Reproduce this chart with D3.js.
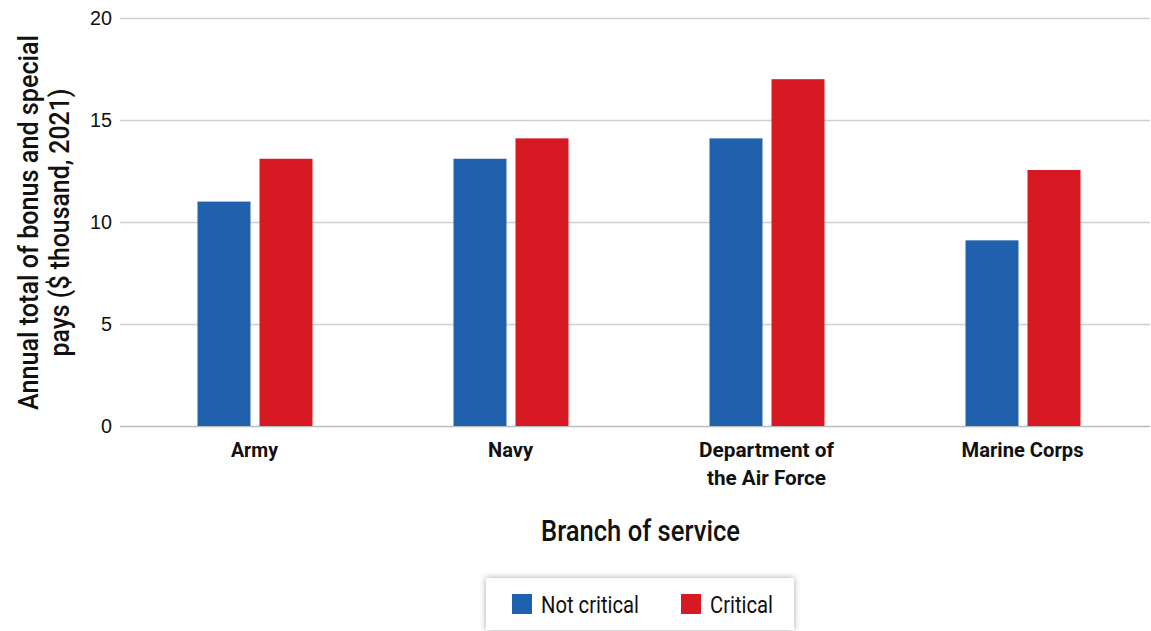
<!DOCTYPE html>
<html>
<head>
<meta charset="utf-8">
<script src="https://cdn.jsdelivr.net/npm/d3@7"></script>
<style>
  html, body { margin: 0; padding: 0; background: #fff; }
  svg { display: block; font-family: "Roboto", "Liberation Sans", sans-serif; }
</style>
</head>
<body>
<svg id="chart" width="1151" height="631"></svg>
<script>
// Branches of service and bonus/special pay totals ($ thousand, 2021)
const categories = ["Army", "Navy", "Department of the Air Force", "Marine Corps"];
const categoryLines = [["Army"], ["Navy"], ["Department of", "the Air Force"], ["Marine Corps"]];
const seriesNames = ["Not critical", "Critical"];
const notCritical = [11.0, 13.1, 14.1, 9.1];
const critical = [13.1, 14.1, 17.0, 12.55];
const yTicks = [0, 5, 10, 15, 20];
const colors = ["#1f61ad", "#d71924"];

const svg = d3.select("#chart");
const plot = { left: 126, right: 1150, top: 18, bottom: 426 };

const x = d3.scaleBand().domain(categories).range([plot.left, plot.right]).paddingInner(0).paddingOuter(0);
const y = d3.scaleLinear().domain([0, 20]).range([plot.bottom, plot.top]);

// condensed look: fit each label into the width the narrow face would take
const fit = (sel, w) => sel.attr("lengthAdjust", "spacingAndGlyphs").attr("textLength", w);

// gridlines and y tick labels
const yAxis = d3.axisLeft(y).tickValues(yTicks).tickSize(-(plot.right - 120)).tickPadding(10);
const gy = svg.append("g").attr("transform", `translate(120,0)`).call(yAxis);
gy.select(".domain").remove();
gy.selectAll(".tick line").attr("stroke", d => d === 0 ? "#bbb" : "#cfcfcf").attr("stroke-width", 1.5);
gy.selectAll(".tick text").attr("fill", "#111").attr("font-size", 20).attr("font-weight", 500)
  .attr("x", -8).attr("lengthAdjust", "spacingAndGlyphs")
  .attr("textLength", d => d >= 10 ? 22 : 11);

// grouped bars
const sub = d3.scaleOrdinal().domain(seriesNames).range([-57, 5]);
const barW = 53;
const rows = categories.map((c, i) => [
  { cat: c, s: seriesNames[0], v: notCritical[i], c: colors[0] },
  { cat: c, s: seriesNames[1], v: critical[i], c: colors[1] }
]).flat();

svg.append("g").selectAll("rect").data(rows).join("rect")
  .attr("x", d => x(d.cat) + x.bandwidth() / 2 + sub(d.s) + 0.5)
  .attr("y", d => y(d.v))
  .attr("width", barW)
  .attr("height", d => y(0) - y(d.v))
  .attr("fill", d => d.c);

// category labels
const labelWidths = { "Army": 47, "Navy": 45, "Department of": 135, "the Air Force": 119, "Marine Corps": 122 };
const gx = svg.append("g");
categories.forEach((c, i) => {
  categoryLines[i].forEach((line, j) => {
    gx.append("text")
      .attr("x", x(c) + x.bandwidth() / 2 + 0.5)
      .attr("y", 457 + j * 28)
      .attr("text-anchor", "middle")
      .attr("font-size", 20)
      .attr("font-weight", "bold")
      .attr("fill", "#111")
      .call(fit, labelWidths[line])
      .text(line);
  });
});

// axis titles
svg.append("text")
  .attr("x", 640.5).attr("y", 541)
  .attr("text-anchor", "middle")
  .attr("font-size", 29)
  .attr("font-weight", 500)
  .attr("fill", "#111")
  .call(fit, 199)
  .text("Branch of service");

const yt = svg.append("g").attr("transform", "translate(0,222.5) rotate(-90)");
yt.append("text").attr("x", 0).attr("y", 38).attr("text-anchor", "middle")
  .attr("font-size", 27).attr("font-weight", 500).attr("fill", "#111")
  .call(fit, 375)
  .text("Annual total of bonus and special");
yt.append("text").attr("x", 0).attr("y", 69).attr("text-anchor", "middle")
  .attr("font-size", 27).attr("font-weight", 500).attr("fill", "#111")
  .call(fit, 268)
  .text("pays ($ thousand, 2021)");

// legend
const defs = svg.append("defs");
const f = defs.append("filter").attr("id", "shadow").attr("x", "-10%").attr("y", "-30%").attr("width", "120%").attr("height", "160%");
f.append("feDropShadow").attr("dx", 0).attr("dy", 0).attr("stdDeviation", 3).attr("flood-color", "#000").attr("flood-opacity", 0.35);

const lg = svg.append("g");
lg.append("rect").attr("x", 486).attr("y", 578).attr("width", 308).attr("height", 52)
  .attr("fill", "#fff").attr("filter", "url(#shadow)");
const legendX = [512, 681];
const legendW = [98, 63];
seriesNames.forEach((s, i) => {
  lg.append("rect").attr("x", legendX[i]).attr("y", 594).attr("width", 20).attr("height", 20).attr("fill", colors[i]);
  lg.append("text").attr("x", legendX[i] + 29).attr("y", 613).attr("font-size", 23).attr("fill", "#111")
    .call(fit, legendW[i])
    .text(s);
});
</script>
</body>
</html>
